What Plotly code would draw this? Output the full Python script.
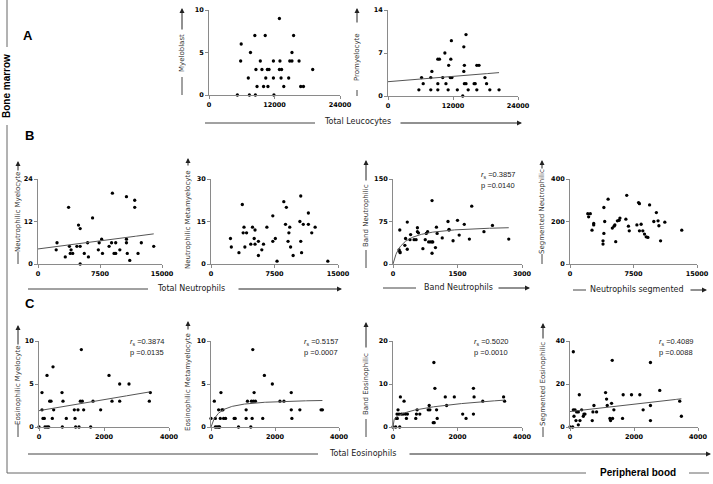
import numpy as np
import plotly.graph_objects as go

W, H = 713, 484

# ---------------- data ----------------
# A: bone marrow vs total leucocytes
myeloblast_leuco = [5200, 5900, 5800, 7200, 7400, 7600, 8400, 8500, 8600, 8800,
                    9400, 9700, 10000, 10300, 10400, 10700, 11000, 10800, 11800, 11800,
                    11900, 12900, 13000, 12900, 13300, 13200, 13700, 14600, 14800, 15200,
                    15200, 15500, 16500, 16800, 17300, 19000]
myeloblast = [0, 6, 4, 2, 0, 5, 7, 0, 3, 1, 4, 3, 1, 7, 2, 3, 3, 1, 2, 4,
              0, 9, 4, 3, 3, 2, 1, 2, 4, 4, 5, 7, 4, 1, 1, 3]

promyelo_leuco = [5700, 6200, 6500, 7900, 7900, 8100, 9200, 9500, 9200, 9200,
                  10100, 10500, 10700, 11100, 11200, 11600, 11500, 11800, 11700, 12800,
                  13800, 14000, 14000, 14100, 14100, 14400, 14400, 14800, 15900, 16100,
                  16400, 16400, 16800, 17900, 18200, 18800, 20500]
promyelocyte = [1, 3, 2, 1, 3, 4, 6, 6, 2, 1, 3, 7, 2, 1, 5, 6, 3, 3, 9, 1,
                0, 8, 4, 5, 2, 10, 2, 1, 2, 2, 1, 5, 5, 3, 2, 1, 1]
promyelo_fit = [2.33, 7.2e-5]          # intercept, slope

# B: neutrophil lineage
neu_myelo_tot = [2300, 2200, 3300, 3700, 3800, 3900, 4000, 4200, 4700, 4900,
                 5100, 5100, 5100, 5600, 6000, 6100, 6600, 7300, 7400, 7700,
                 7800, 8600, 8900, 9000, 9200, 9400, 9400, 9900, 10700, 10700,
                 10700, 10800, 11100, 11700, 11700, 12100, 12500, 14000]
neu_myelocyte = [6, 4, 2, 16, 5, 3, 4, 3, 5, 11, 10, 5, 0, 3, 6, 2, 13, 4, 6, 7,
                 3, 5, 6, 20, 3, 3, 6, 4, 7, 19, 6, 3, 1, 18, 16, 3, 6, 5]
neu_myelo_fit = [4.25, 3.04e-4]

neu_meta_tot = [2300, 2400, 3300, 3700, 3800, 3900, 4000, 4200, 4700, 4900,
                5100, 5200, 5200, 5600, 5600, 6000, 6200, 6600, 7300, 7300,
                7600, 7800, 8600, 8900, 8800, 9100, 9200, 9300, 9400, 9700,
                10500, 10600, 10600, 10700, 10900, 11500, 11500, 11900, 12300, 13800]
neu_metamyelocyte = [9, 6, 4, 21, 11, 13, 6, 11, 7, 13, 9, 12, 7, 8, 3, 5, 7, 13, 17, 8,
                     9, 1, 22, 20, 14, 8, 11, 13, 6, 3, 15, 8, 24, 4, 14, 18, 14, 11, 13, 1]

band_neu_blood = [158, 142, 158, 166, 276, 292, 332, 332, 395, 410,
                  490, 537, 568, 568, 592, 695, 750, 774, 805, 829,
                  868, 908, 908, 908, 924, 987, 1010, 1026, 1145, 1279,
                  1303, 1303, 1397, 1500, 1539, 1658, 1776, 1831, 2115, 2313, 2692]
band_neu_marrow = [60, 25, 22, 20, 33, 45, 74, 26, 43, 52, 43, 43, 64, 57, 55, 27, 43, 54, 57, 39,
                   39, 39, 112, 19, 39, 29, 65, 54, 46, 75, 61, 60, 41, 77, 51, 70, 44, 102, 57, 68, 44]
band_neu_fit = [69, 210]               # hyperbola vmax, k

seg_neu_blood = [2100, 2400, 2200, 2800, 2800, 2600, 3900, 3900, 4000, 4000,
                 4100, 4500, 5000, 5200, 5300, 5400, 5600, 5800, 5900, 6600,
                 6700, 6900, 7000, 7900, 8100, 8200, 8200, 8400, 8600, 8800,
                 9000, 9200, 9400, 9900, 10200, 10400, 10500, 10700, 11200, 13200]
seg_neu_marrow = [237, 237, 222, 184, 191, 159, 94, 109, 144, 266, 200, 305, 169, 178, 184, 105, 203, 206, 216, 211,
                  323, 178, 156, 184, 289, 284, 156, 187, 156, 141, 128, 125, 278, 200, 242, 203, 180, 109, 197, 159]

# C: eosinophil lineage vs total eosinophils
eo_myelo_tot = [0, 92, 92, 123, 164, 185, 246, 246, 297, 328, 369, 410, 431, 451, 708, 718, 738, 841,
                1087, 1108, 1128, 1200, 1231, 1272, 1303, 1333, 1374, 1590, 1662, 1897, 2154, 2246,
                2482, 2482, 2769, 3395, 3426]
eo_myelocyte = [0, 4, 2, 1, 1, 0, 0, 6, 0, 3, 3, 1, 7, 2, 4, 0, 3, 1, 2, 1,
                0, 2, 0, 3, 9, 3, 2, 0, 3, 2, 6, 3, 5, 3, 5, 3, 4]
eo_myelo_fit = [1.9, 6.4e-4]

eo_meta_tot = [0, 104, 135, 135, 187, 238, 269, 238, 290, 311, 342, 373, 394, 456, 725, 756, 860,
               1098, 1098, 1140, 1244, 1285, 1264, 1306, 1326, 1347, 1389, 1617, 1668, 1917, 2155,
               2280, 2508, 2508, 2528, 2777, 3440, 3482]
eo_metamyelocyte = [1, 3, 1, 0, 0, 0, 0, 2, 1, 4, 2, 2, 1, 1, 1, 1, 0, 2, 1, 3,
                    0, 1, 3, 9, 3, 4, 3, 1, 6, 5, 3, 3, 4, 2, 1, 2, 2, 2]
eo_meta_fit = [3.3, 249]               # hyperbola vmax, k

band_eo_tot = [0, 83, 104, 125, 135, 156, 187, 208, 229, 260, 312, 343, 384, 416, 447, 706, 727, 748, 831,
               1091, 1122, 1143, 1247, 1278, 1268, 1299, 1351, 1371, 1621, 1662, 1901, 2161, 2265,
               2494, 2514, 2494, 2784, 3429, 3460]
band_eo = [0, 0, 2, 3, 2, 4, 3, 0, 7, 3, 3, 6, 3, 2, 3, 2, 3, 4, 3, 4,
           5, 4, 1, 1, 15, 9, 4, 2, 7, 5, 7, 3, 2, 9, 7, 3, 6, 7, 6]
band_eo_fit = [0.623, 0.283]           # power a, b

seg_eo_tot = [0, 83, 104, 104, 125, 156, 187, 208, 260, 260, 291, 312, 364, 416, 436, 468, 696, 717, 748, 831,
              1112, 1143, 1164, 1247, 1268, 1299, 1320, 1330, 1371, 1642, 1662, 1922, 2182, 2286,
              2514, 2514, 2514, 2805, 3429, 3481]
seg_eo = [0, 0, 35, 8, 5, 8, 3, 7, 7, 1, 15, 3, 8, 5, 6, 6, 3, 7, 10, 7,
          16, 13, 10, 4, 3, 11, 31, 4, 8, 4, 15, 15, 15, 8, 30, 10, 3, 17, 12, 5]
seg_eo_fit = [7.2, 1.7e-3]

stats = {
    "band_neu": ["0.3857", "0.0140"],
    "eo_myelo": ["0.3874", "0.0135"],
    "eo_meta": ["0.5157", "0.0007"],
    "band_eo": ["0.5020", "0.0010"],
    "seg_eo": ["0.4089", "0.0088"],
}


def px(x):
    return x / W


def py(y):
    return 1 - y / H


def linear(p, xs):
    return p[0] + p[1] * xs


def hyper(p, xs):
    return p[0] * xs / (p[1] + xs)


def power(p, xs):
    return p[0] * xs ** p[1]


# panel boxes in pixels: x0, x1, ytop, ybottom
panels = [
    (myeloblast_leuco, myeloblast, [0, 12000, 24000], [0, 5, 10], (209, 340, 10, 95), None, None),
    (promyelo_leuco, promyelocyte, [0, 12000, 24000], [0, 7, 14], (388, 518, 10, 96), linear, promyelo_fit),
    (neu_myelo_tot, neu_myelocyte, [0, 7500, 15000], [0, 12, 24], (38, 162, 179, 264), linear, neu_myelo_fit),
    (neu_meta_tot, neu_metamyelocyte, [0, 7500, 15000], [0, 15, 30], (211, 338, 179, 264), None, None),
    (band_neu_blood, band_neu_marrow, [0, 1500, 3000], [0, 75, 150], (393, 522, 179, 264), hyper, band_neu_fit),
    (seg_neu_blood, seg_neu_marrow, [0, 7500, 15000], [0, 200, 400], (570, 697, 179, 264), None, None),
    (eo_myelo_tot, eo_myelocyte, [0, 2000, 4000], [0, 5, 10], (39, 169, 341, 427), linear, eo_myelo_fit),
    (eo_meta_tot, eo_metamyelocyte, [0, 2000, 4000], [0, 5, 10], (211, 339, 341, 427), hyper, eo_meta_fit),
    (band_eo_tot, band_eo, [0, 2000, 4000], [0, 10, 20], (393, 522, 341, 427), power, band_eo_fit),
    (seg_eo_tot, seg_eo, [0, 2000, 4000], [0, 20, 40], (570, 698, 341, 427), linear, seg_eo_fit),
]

fig = go.Figure()
layout = {}
tickfont = dict(family="DejaVu Sans", size=6.5, color="black", weight="bold")
axcol = "#8a8a8a"

for i, (xs, ys, xt, yt, box, fn, par) in enumerate(panels, start=1):
    x0, x1, yt0, yb = box
    xa = "x" if i == 1 else f"x{i}"
    ya = "y" if i == 1 else f"y{i}"
    common = dict(showgrid=False, zeroline=False, showline=True, linecolor=axcol, linewidth=1,
                  ticks="outside", ticklen=3, tickcolor=axcol, tickfont=tickfont,
                  fixedrange=True, automargin=False)
    layout[f"xaxis{i}"] = dict(domain=[px(x0), px(x1)], range=[0, xt[-1]], anchor=ya,
                               tickvals=xt, ticktext=[str(v) for v in xt], **common)
    layout[f"yaxis{i}"] = dict(domain=[py(yb), py(yt0)], range=[0, yt[-1]], anchor=xa,
                               tickvals=yt, ticktext=[str(v) for v in yt], **common)
    fig.add_trace(go.Scatter(x=xs, y=ys, mode="markers", xaxis=xa, yaxis=ya, cliponaxis=False,
                             marker=dict(size=3.3, color="black"), showlegend=False))
    if fn is not None:
        lx = np.linspace(0, max(xs), 200)
        fig.add_trace(go.Scatter(x=lx, y=fn(par, lx), mode="lines", xaxis=xa, yaxis=ya,
                                 line=dict(color="#555555", width=1), showlegend=False))

annotations = []
shapes = []
tfont = dict(family="DejaVu Sans", size=8, color="#222222")


def hline(xa, xb, y, col="#444444"):
    shapes.append(dict(type="line", xref="paper", yref="paper", x0=px(xa), x1=px(xb),
                       y0=py(y), y1=py(y), line=dict(color=col, width=1)))


def vline(x, ya, yb, col="#444444"):
    shapes.append(dict(type="line", xref="paper", yref="paper", x0=px(x), x1=px(x),
                       y0=py(ya), y1=py(yb), line=dict(color=col, width=1)))


def arrow(xh, yh, xt, yt):
    annotations.append(dict(x=px(xh), y=py(yh), xref="paper", yref="paper", text="",
                            showarrow=True, ax=xt - xh, ay=yt - yh, arrowhead=2,
                            arrowsize=1, arrowwidth=1, arrowcolor="#222222"))


def text(s, x, y, font=tfont, angle=0, xanchor="center"):
    annotations.append(dict(x=px(x), y=py(y), xref="paper", yref="paper", text=s, showarrow=False,
                            textangle=angle, font=font, xanchor=xanchor, yanchor="middle"))


# y titles: text, x, centre y, bottom line (from, to), arrow (tail, head)
ytitles = [
    ("Myeloblast", 182, 53, (77, 95), (31, 8)),
    ("Promyelocyte", 357, 57, (90, 96), (24, 8)),
    ("Neutrophilic Myelocyte", 18, 212, (252, 264), (172, 161)),
    ("Neutrophilic Metamyelocyte", 188, 220, None, (167, 158)),
    ("Band Neutrophilic", 366, 216, (250, 268), (182, 160)),
    ("Segmented Neutrophilic", 542, 212, (254, 264), (170, 160)),
    ("Eosinophilic Myelocyte", 18, 385, (424, 437), (346, 325)),
    ("Eosinophilic Metamyelocyte", 188, 382, None, (331, 321)),
    ("Band Eosinophilic", 366, 384, (419, 437), (349, 322)),
    ("Segmented Eosinophilic", 543, 384, (427, 437), (340, 323)),
]
for s, x, yc, bot, arr in ytitles:
    text(s, x, yc, font=dict(family="DejaVu Sans", size=7, color="#333333"), angle=-90)
    if bot:
        vline(x, bot[0], bot[1])
    if arr:
        arrow(x, arr[1], x, arr[0])

# x titles: text, centre x, y, left line, arrow span
xtitles = [
    ("Total Leucocytes", 357, 122, (205, 315), (399, 522)),
    ("Total Neutrophils", 191, 288, (28, 148), (237, 342)),
    ("Band Neutrophils", 458, 287, (383, 416), (497, 530)),
    ("Neutrophils segmented", 637, 289, (573, 586), (689, 707)),
    ("Total Eosinophils", 362, 453, (28, 318), (408, 711)),
]
for s, x, y, ln, arr in xtitles:
    text(s, x, y)
    hline(ln[0], ln[1], y + 1)
    arrow(arr[1], y + 1, arr[0], y + 1)

# correlation stats
statpos = [("band_neu", 479, 175), ("eo_myelo", 128, 342), ("eo_meta", 302, 342),
           ("band_eo", 472, 342), ("seg_eo", 657, 342)]
sfont = dict(family="Liberation Sans", size=7.5, color="#222222")
for key, x, y in statpos:
    r, p = stats[key]
    text(f"<i>r</i><sub>s</sub> ={r}", x, y, font=sfont, xanchor="left")
    text(f"p ={p}", x, y + 10, font=sfont, xanchor="left")

# panel letters, frame labels
lfont = dict(family="Liberation Sans", size=13, color="black", weight="bold")
text("A", 28, 35, font=lfont)
text("B", 29, 135, font=lfont)
text("C", 30, 303, font=lfont)
bfont = dict(family="Liberation Sans", size=10, color="black", weight="bold")
text("Bone marrow", 7, 86, font=bfont, angle=-90)
text("Peripheral bood", 638, 472, font=bfont)
vline(7, 0, 47, "#666666")
vline(7, 125, 473, "#666666")
hline(7, 586, 473, "#666666")
hline(689, 709, 473, "#666666")

fig.update_layout(width=W, height=H, margin=dict(l=0, r=0, t=0, b=0),
                  paper_bgcolor="white", plot_bgcolor="white",
                  annotations=annotations, shapes=shapes, **layout)

# page body has an 8px default margin; drop it so the figure sits at the window corner
fig.write_html("out.html", config={"displayModeBar": False},
               post_script="document.body.style.margin='0';")
